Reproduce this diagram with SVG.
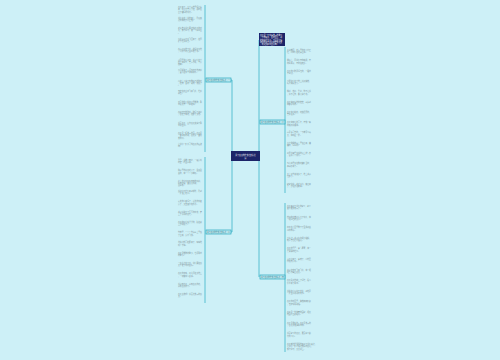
<svg xmlns="http://www.w3.org/2000/svg" width="500" height="360" viewBox="0 0 500 360">
<style>
.bg{fill:#cdf0f7}
.ln{fill:none;stroke:#3ab4c9;stroke-width:0.8}
.nd{fill:#bfeaf2;stroke:#2aa8be;stroke-width:0.7}
.ndt{font-family:"Noto Sans CJK SC","Liberation Sans",sans-serif;font-size:1.75px;fill:#1b6f80}
.dk{fill:#1c2468}
.wt{font-family:"Noto Sans CJK SC","Liberation Sans",sans-serif;font-size:1.85px;fill:#ffffff}
.lf{font-family:"Noto Sans CJK SC","Liberation Sans",sans-serif;font-size:1.85px;fill:#7f9297}
</style>
<rect class="bg" x="0" y="0" width="500" height="360"/>
<g id="connectors">
<path class="ln" d="M231 156 H232 M232 80 V232 M231 80 H232 M231 232 H232"/>
<path class="ln" d="M259 40 V277 M259 156 H260"/>
<path class="ln" d="M205 5 V152 M205 157 V303"/>
<path class="ln" d="M285 47 V193 M285 203 V352"/>
</g>
<g id="center">
<rect class="dk" x="231" y="151" width="29" height="10"/>
<text class="wt" x="245.5" y="155.6" text-anchor="middle">关于春天的作文范文精选</text>
<text class="wt" x="245.5" y="158.6" text-anchor="middle">篇</text>
</g>
<g id="intro">
<rect class="dk" x="259" y="33" width="26" height="13"/>
<text class="wt" x="260" y="36"><tspan x="260">春天是一年中最美丽的季节</tspan><tspan x="260" dy="2.3">，万物复苏，百花盛开，到</tspan><tspan x="260" dy="2.3">处充满了生机。下面是小编</tspan><tspan x="260" dy="2.3">整理的关于春天的作文范文</tspan><tspan x="260" dy="2.3">，欢迎大家阅读参考。</tspan></text>
</g>
<g id="node-l1">
<rect class="nd" x="206" y="78" width="25" height="4"/>
<text class="ndt" x="207" y="80.6">关于春天的作文范文精选（一）</text>
</g>
<g id="node-l2">
<rect class="nd" x="206" y="230" width="25" height="4"/>
<text class="ndt" x="207" y="232.6">关于春天的作文范文精选（二）</text>
</g>
<g id="node-r1">
<rect class="nd" x="260" y="120" width="25" height="4"/>
<text class="ndt" x="261" y="122.6">关于春天的作文范文精选（三）</text>
</g>
<g id="node-r2">
<rect class="nd" x="260" y="275" width="25" height="4"/>
<text class="ndt" x="261" y="277.6">关于春天的作文范文精选（四）</text>
</g>
<g id="leaves-l1" class="lf">
<text y="8"><tspan x="178">春天来了，小草从地里探出头</tspan><tspan x="178" dy="2.4">来，花儿也笑开了脸，柳树发</tspan><tspan x="178" dy="2.4">出了嫩绿的新芽。</tspan></text>
<text y="18.5"><tspan x="178">我们走在上学的路上，看见路</tspan><tspan x="178" dy="2.4">边的桃花开得正艳。</tspan></text>
<text y="29"><tspan x="178">老师告诉我们要珍惜春天的时</tspan><tspan x="178" dy="2.4">光，努力学习，做一个好学生</tspan><tspan x="178" dy="2.4">。</tspan></text>
<text y="39.5"><tspan x="178">小燕子从南方飞回来了，在屋</tspan><tspan x="178" dy="2.4">檐下忙着筑巢。</tspan></text>
<text y="50"><tspan x="178">春雨沙沙地下着，滋润着大地</tspan><tspan x="178" dy="2.4">，田野里的麦苗喝饱了水。</tspan></text>
<text y="60.5"><tspan x="178">公园里游人如织，孩子们在草</tspan><tspan x="178" dy="2.4">地上放风筝，笑声不断，十分</tspan><tspan x="178" dy="2.4">热闹。</tspan></text>
<text y="71"><tspan x="178">小河解冻了，河水哗哗地流着</tspan><tspan x="178" dy="2.4">，鱼儿在水里游来游去。</tspan></text>
<text y="81.5"><tspan x="178">山坡上开满了各种颜色的野花</tspan><tspan x="178" dy="2.4">，红的、黄的、紫的，美极了</tspan><tspan x="178" dy="2.4">。</tspan></text>
<text y="92"><tspan x="178">蜜蜂在花丛中飞来飞去，忙着</tspan><tspan x="178" dy="2.4">采蜜。</tspan></text>
<text y="102.5"><tspan x="178">农民伯伯开始在田里播种，希</tspan><tspan x="178" dy="2.4">望秋天有一个好收成。</tspan></text>
<text y="113"><tspan x="178">春风轻轻地吹着，吹绿了柳树</tspan><tspan x="178" dy="2.4">，吹红了桃花，吹醒了大地。</tspan></text>
<text y="123.5"><tspan x="178">我爱春天，因为春天充满了希</tspan><tspan x="178" dy="2.4">望和生机。</tspan></text>
<text y="134"><tspan x="178">春天是一幅美丽的画，春天是</tspan><tspan x="178" dy="2.4">一首动听的歌，春天是一首优</tspan><tspan x="178" dy="2.4">美的诗。</tspan></text>
<text y="144.5"><tspan x="178">让我们一起去寻找春天的足迹</tspan><tspan x="178" dy="2.4">吧！</tspan></text>
</g>
<g id="leaves-l2" class="lf">
<text y="161"><tspan x="178">早晨，我推开窗户，一股清新</tspan><tspan x="178" dy="2.4">的空气扑面而来。</tspan></text>
<text y="171.3"><tspan x="178">院子里的迎春花开了，金黄金</tspan><tspan x="178" dy="2.4">黄的，像一个个小喇叭。</tspan></text>
<text y="181.6"><tspan x="178">树上的小鸟叽叽喳喳地叫着，</tspan><tspan x="178" dy="2.4">好像在唱一首春天的歌，</tspan><tspan x="178" dy="2.4">真好听。</tspan></text>
<text y="191.9"><tspan x="178">我和小伙伴们来到郊外，看到</tspan><tspan x="178" dy="2.4">一片油菜花田。</tspan></text>
<text y="202.2"><tspan x="178">远处的山变绿了，近处的水变</tspan><tspan x="178" dy="2.4">清了，天空变得格外蓝。</tspan></text>
<text y="212.5"><tspan x="178">孩子们脱下了厚厚的棉衣，穿</tspan><tspan x="178" dy="2.4">上了漂亮的春装。</tspan></text>
<text y="222.8"><tspan x="178">春天的阳光暖洋洋的，照在身</tspan><tspan x="178" dy="2.4">上舒服极了。</tspan></text>
<text y="233.1"><tspan x="178">竹林里，一个个竹笋从土里钻</tspan><tspan x="178" dy="2.4">了出来，长得飞快。</tspan></text>
<text y="243.4"><tspan x="178">池塘边的青蛙醒来了，呱呱地</tspan><tspan x="178" dy="2.4">叫个不停。</tspan></text>
<text y="253.7"><tspan x="178">春天是播种的季节，也是希望</tspan><tspan x="178" dy="2.4">的季节。</tspan></text>
<text y="264"><tspan x="178">一年之计在于春，我们要在春</tspan><tspan x="178" dy="2.4">天里定下新的目标。</tspan></text>
<text y="274.3"><tspan x="178">春天的夜晚，月光洒在大地上</tspan><tspan x="178" dy="2.4">，一切都那么安静。</tspan></text>
<text y="284.6"><tspan x="178">我喜欢春天，喜欢春天的花，</tspan><tspan x="178" dy="2.4">喜欢春天的草。</tspan></text>
<text y="294.9"><tspan x="178">春天真美啊！我爱这美丽的春</tspan><tspan x="178" dy="2.4">天。</tspan></text>
</g>
<g id="leaves-r1" class="lf">
<text y="51"><tspan x="287">走进校园，花坛里的花开得正</tspan><tspan x="287" dy="2.4">旺，同学们在花旁读书。</tspan></text>
<text y="61.3"><tspan x="287">操场上，同学们有的跳绳，有</tspan><tspan x="287" dy="2.4">的踢毽子，有的在跑步。</tspan></text>
<text y="71.6"><tspan x="287">春天的田野是绿色的，一眼望</tspan><tspan x="287" dy="2.4">不到边。</tspan></text>
<text y="81.9"><tspan x="287">小朋友们在草地上追逐蝴蝶，</tspan><tspan x="287" dy="2.4">玩得满头大汗。</tspan></text>
<text y="92.2"><tspan x="287">桃树、杏树、梨树，你不让我</tspan><tspan x="287" dy="2.4">，我不让你，都开满了花。</tspan></text>
<text y="102.5"><tspan x="287">春天像刚落地的娃娃，从头到</tspan><tspan x="287" dy="2.4">脚都是新的。</tspan></text>
<text y="112.8"><tspan x="287">春天像小姑娘，花枝招展的，</tspan><tspan x="287" dy="2.4">笑着走着。</tspan></text>
<text y="123.1"><tspan x="287">春天像健壮的青年，有铁一般</tspan><tspan x="287" dy="2.4">的胳膊和腰脚。</tspan></text>
<text y="133.4"><tspan x="287">雨是最寻常的，一下就是三两</tspan><tspan x="287" dy="2.4">天，像细丝一样。</tspan></text>
<text y="143.7"><tspan x="287">小草偷偷地从土里钻出来，嫩</tspan><tspan x="287" dy="2.4">嫩的，绿绿的。</tspan></text>
<text y="154"><tspan x="287">风里带来些新翻的泥土的气息</tspan><tspan x="287" dy="2.4">，混着青草味儿。</tspan></text>
<text y="164.3"><tspan x="287">鸟儿将巢安在繁花嫩叶当中，</tspan><tspan x="287" dy="2.4">高兴起来了。</tspan></text>
<text y="174.6"><tspan x="287">天上风筝渐渐多了，地上孩子</tspan><tspan x="287" dy="2.4">也多了。</tspan></text>
<text y="184.9"><tspan x="287">家家户户，老老小小，都出来</tspan><tspan x="287" dy="2.4">了，舒活舒活筋骨。</tspan></text>
</g>
<g id="leaves-r2" class="lf">
<text y="207"><tspan x="287">春天来到了我们的家乡，家乡</tspan><tspan x="287" dy="2.4">变得更加美丽了。</tspan></text>
<text y="217.6"><tspan x="287">村口的大榕树长出了新叶，像</tspan><tspan x="287" dy="2.4">一把绿色的大伞。</tspan></text>
<text y="228.2"><tspan x="287">奶奶在菜园里种下了豆角和黄</tspan><tspan x="287" dy="2.4">瓜的种子。</tspan></text>
<text y="238.8"><tspan x="287">小溪边，孩子们在捉小蝌蚪，</tspan><tspan x="287" dy="2.4">欢声笑语传得很远。</tspan></text>
<text y="249.4"><tspan x="287">春天的早晨，雾气蒙蒙，像一</tspan><tspan x="287" dy="2.4">层薄薄的轻纱。</tspan></text>
<text y="260"><tspan x="287">太阳出来了，雾散了，山村显</tspan><tspan x="287" dy="2.4">得格外清新。</tspan></text>
<text y="270.6"><tspan x="287">燕子在空中飞来飞去，像一把</tspan><tspan x="287" dy="2.4">把剪刀裁出春天。</tspan></text>
<text y="281.2"><tspan x="287">春天给大地披上了绿装，给人</tspan><tspan x="287" dy="2.4">们带来了希望。</tspan></text>
<text y="291.8"><tspan x="287">我站在山顶向下望去，到处是</tspan><tspan x="287" dy="2.4">一片生机勃勃的景象。</tspan></text>
<text y="302.4"><tspan x="287">春天的花园里，蝴蝶翩翩起舞</tspan><tspan x="287" dy="2.4">，蜜蜂嗡嗡歌唱。</tspan></text>
<text y="313"><tspan x="287">春天是一位神奇的画家，把大</tspan><tspan x="287" dy="2.4">地画得五彩缤纷。</tspan></text>
<text y="323.6"><tspan x="287">春天是温暖的，春天是美丽的</tspan><tspan x="287" dy="2.4">，春天是充满希望的。</tspan></text>
<text y="334.2"><tspan x="287">我爱家乡的春天，更爱家乡勤</tspan><tspan x="287" dy="2.4">劳的人们。</tspan></text>
<text y="344.8"><tspan x="287">春天就这样悄悄地来到了我们身边，</tspan><tspan x="287" dy="2.4">让我们一起珍惜这美好的春光，</tspan><tspan x="287" dy="2.4">努力学习，天天向上。</tspan></text>
</g>
</svg>
